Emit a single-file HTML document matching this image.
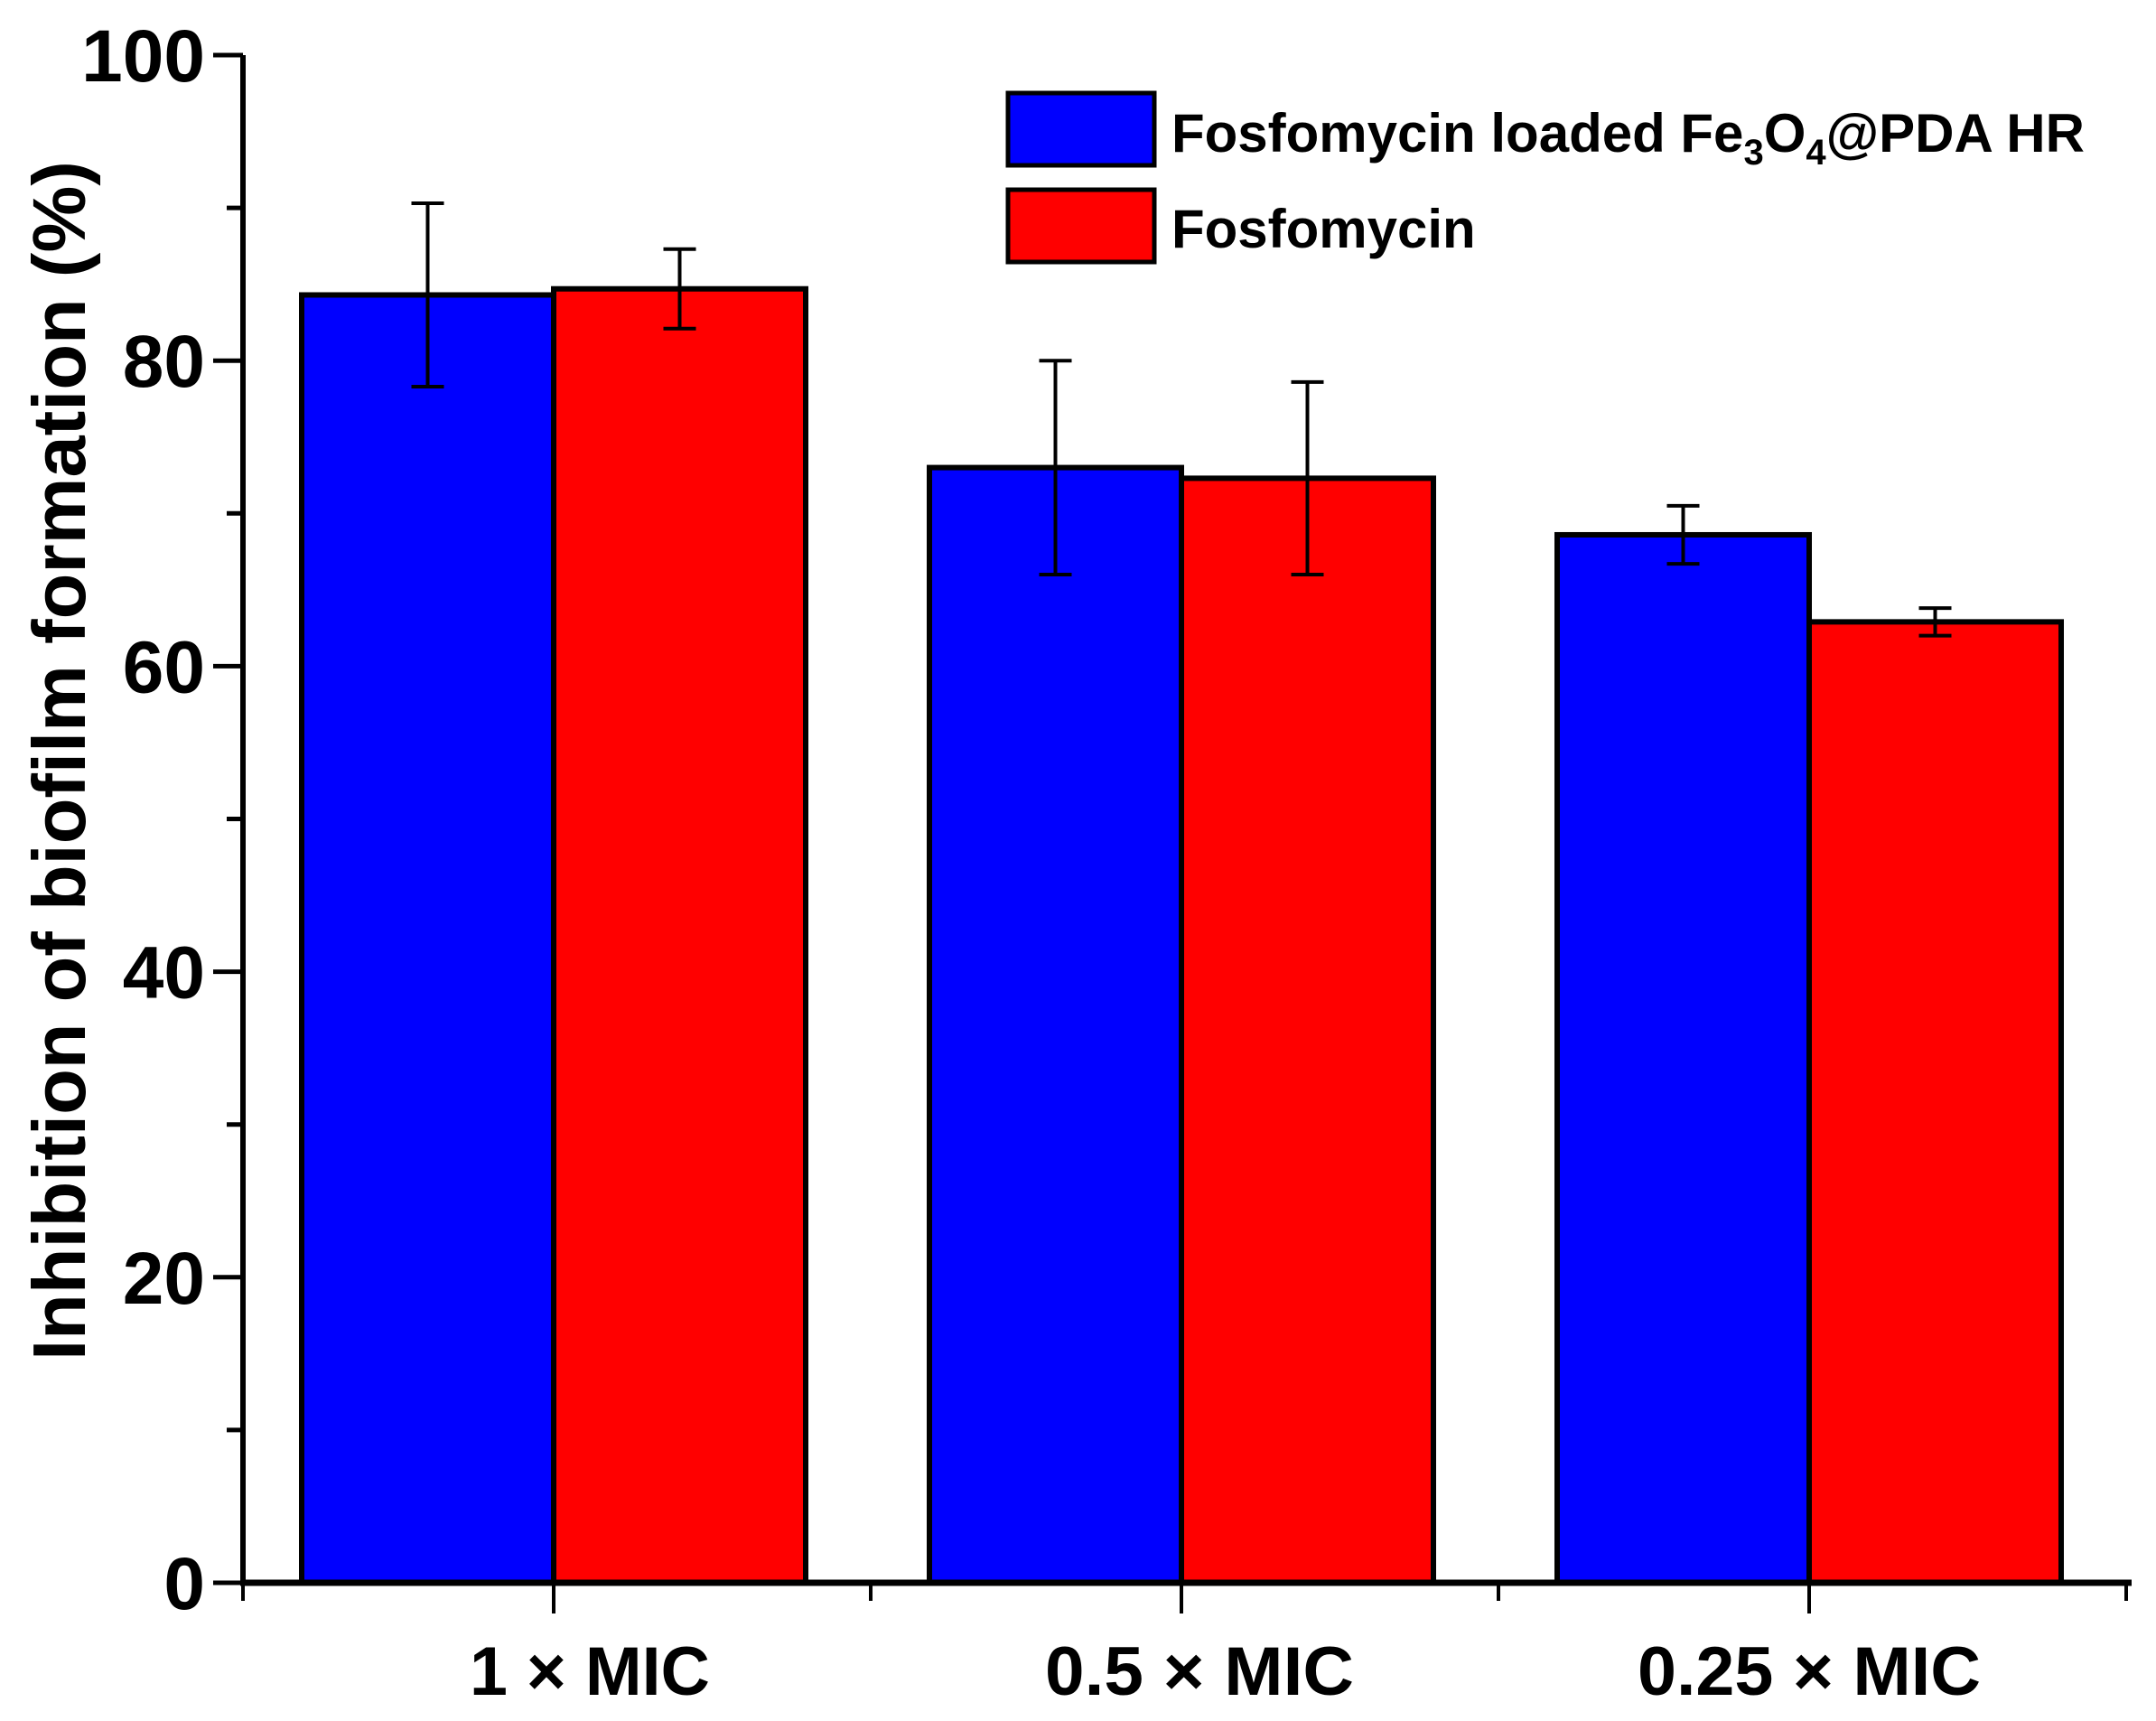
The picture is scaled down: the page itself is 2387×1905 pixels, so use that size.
<!DOCTYPE html>
<html><head><meta charset="utf-8"><style>
html,body{margin:0;padding:0;background:#fff}
svg{display:block;font-family:"Liberation Sans",Arial,sans-serif;font-weight:bold}
</style></head><body>
<svg id="chart" width="2387" height="1905" viewBox="0 0 2387 1905" xmlns="http://www.w3.org/2000/svg">
<g id="bars"></g>
<g id="axes"></g>
<text transform="translate(94,842) rotate(-90)" text-anchor="middle" font-size="83">Inhibition of biofilm formation (%)</text>
<g>
<rect x="1116" y="103" width="162" height="80" fill="#0000ff" stroke="#000" stroke-width="5"/>
<text x="1297" y="168" font-size="60">Fosfomycin loaded Fe<tspan font-size="40" dy="14">3</tspan><tspan dy="-14">O</tspan><tspan font-size="40" dy="14">4</tspan><tspan dy="-14">@PDA HR</tspan></text>
<rect x="1116" y="210" width="162" height="80" fill="#ff0000" stroke="#000" stroke-width="5"/>
<text x="1297" y="274" font-size="60">Fosfomycin</text>
</g>
</svg>
<script>
const categories = ["1 × MIC", "0.5 × MIC", "0.25 × MIC"];
const loadedValues = [84.3, 73.0, 68.6];
const loadedErrors = [6.0, 7.0, 1.9];
const fosfoValues = [84.7, 72.3, 62.9];
const fosfoErrors = [2.6, 6.3, 0.9];
const yTicks = [0, 20, 40, 60, 80, 100];

const NS = "http://www.w3.org/2000/svg";
const X0 = 269, Y0 = 1752, Y100 = 61, STEP = 695, FIRST = 613, BW = 279;
function yS(v){ return Y0 - (Y0 - Y100) * v / 100; }
function xC(i){ return FIRST + i * STEP; }
function mk(tag, attrs, parent){
  const e = document.createElementNS(NS, tag);
  for (const k in attrs) e.setAttribute(k, attrs[k]);
  parent.appendChild(e); return e;
}
const bars = document.getElementById('bars');
const axes = document.getElementById('axes');
const series = [
  {vals: loadedValues, errs: loadedErrors, color: "#0000ff", off: -BW, name: "loaded"},
  {vals: fosfoValues, errs: fosfoErrors, color: "#ff0000", off: 0, name: "fosfomycin"}
];
series.forEach(s => {
  s.vals.forEach((v, i) => {
    const r = mk('rect', {x: xC(i) + s.off, y: yS(v), width: BW, height: Y0 - yS(v), fill: s.color, stroke: "#000", "stroke-width": 6}, bars);
    
    
  });
});
series.forEach(s => {
  s.vals.forEach((v, i) => {
    const cx = xC(i) + s.off + BW / 2;
    const g = mk('g', {stroke: "#000", "stroke-width": 4}, bars);
    
    
    mk('line', {x1: cx, x2: cx, y1: yS(v + s.errs[i]), y2: yS(v - s.errs[i])}, g);
    mk('line', {x1: cx - 18, x2: cx + 18, y1: yS(v + s.errs[i]), y2: yS(v + s.errs[i])}, g);
    mk('line', {x1: cx - 18, x2: cx + 18, y1: yS(v - s.errs[i]), y2: yS(v - s.errs[i])}, g);
  });
});
mk('line', {x1: X0, x2: X0, y1: Y100, y2: Y0 + 3, stroke: "#000", "stroke-width": 6}, axes);
mk('line', {x1: X0 - 3, x2: 2360, y1: Y0, y2: Y0, stroke: "#000", "stroke-width": 7}, axes);
for (let v = 0; v <= 100; v += 10) {
  const major = v % 20 === 0;
  mk('line', {x1: X0 - (major ? 33 : 18), x2: X0, y1: yS(v), y2: yS(v), stroke: "#000", "stroke-width": 5}, axes);
}
yTicks.forEach(t => {
  const tx = mk('text', {x: X0 - 42, y: yS(t) + 29, "text-anchor": "end", "font-size": 82}, axes);
  tx.textContent = t;
  
  
});
for (let i = 0; i <= categories.length; i++) {
  mk('line', {x1: X0 + i * STEP, x2: X0 + i * STEP, y1: Y0, y2: Y0 + 20, stroke: "#000", "stroke-width": 4}, axes);
}
categories.forEach((c, i) => {
  mk('line', {x1: xC(i), x2: xC(i), y1: Y0, y2: Y0 + 34, stroke: "#000", "stroke-width": 4}, axes);
  const tx = mk('text', {x: xC(i) + 40 - 20 * i, y: 1876, "text-anchor": "middle", "font-size": 76, textLength: c.length * 38, lengthAdjust: "spacingAndGlyphs"}, axes);
  tx.textContent = c;
  
  
});
</script>
</body></html>
